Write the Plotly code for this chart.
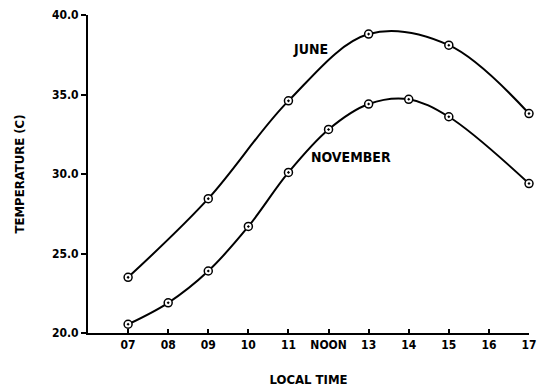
import plotly.graph_objects as go

hours = [7, 8, 9, 10, 11, 12, 13, 14, 15, 16, 17]
hour_labels = ["07", "08", "09", "10", "11", "NOON", "13", "14", "15", "16", "17"]

june_x = [7, 9, 11, 13, 15, 17]
june_t = [23.5, 28.45, 34.6, 38.8, 38.1, 33.8]

nov_x = [7, 8, 9, 10, 11, 12, 13, 14, 15, 17]
nov_t = [20.55, 21.9, 23.9, 26.7, 30.1, 32.8, 34.4, 34.7, 33.6, 29.4]

y_ticks = [20, 25, 30, 35, 40]

FONT = "DejaVu Sans Condensed, Liberation Sans Narrow, sans-serif"

fig = go.Figure()
for xs, ys, name in [(june_x, june_t, "JUNE"), (nov_x, nov_t, "NOVEMBER")]:
    fig.add_trace(go.Scatter(
        x=xs, y=ys, mode="lines+markers", name=name,
        line=dict(color="black", width=2, shape="spline", smoothing=1.0),
        marker=dict(symbol="circle-dot", size=8, color="white",
                    line=dict(color="black", width=1.5)),
        showlegend=False, cliponaxis=False,
    ))

fig.add_annotation(x=11.56, y=37.89, text="<b>JUNE</b>", showarrow=False,
                   font=dict(family=FONT, size=14, color="black"))
fig.add_annotation(x=12.57, y=31.09, text="<b>NOVEMBER</b>", showarrow=False,
                   font=dict(family=FONT, size=14, color="black"))

fig.update_layout(
    width=538, height=389,
    margin=dict(l=88, r=9, t=15, b=56),
    paper_bgcolor="white", plot_bgcolor="white",
    font=dict(family=FONT, color="black", size=12),
    xaxis=dict(
        range=[6, 17], tickvals=hours,
        ticktext=[f"<b>{t}</b>" for t in hour_labels],
        showline=True, linecolor="black", linewidth=2,
        ticks="inside", ticklen=4, tickcolor="black", tickwidth=1.5,
        showgrid=False, zeroline=False, automargin=False,
        ticklabeloverflow="allow",
        title=dict(text="<b>LOCAL TIME</b>", standoff=23,
                   font=dict(family=FONT, size=13)),
        tickfont=dict(family=FONT, size=12),
    ),
    yaxis=dict(
        range=[20, 40], tickvals=y_ticks,
        ticktext=[f"<b>{v:.1f}</b>" for v in y_ticks],
        showline=True, linecolor="black", linewidth=2,
        ticks="outside", ticklen=5, tickcolor="black", tickwidth=1.5,
        showgrid=False, zeroline=False, automargin=False,
        title=dict(text="<b>TEMPERATURE (C)</b>", standoff=24,
                   font=dict(family=FONT, size=13)),
        tickfont=dict(family=FONT, size=12),
    ),
)

fig.write_html("out.html")
